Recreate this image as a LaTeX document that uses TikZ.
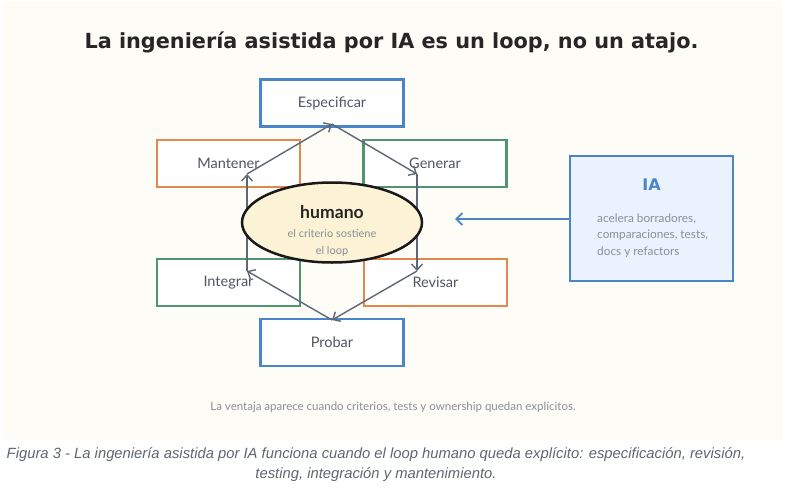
\documentclass[tikz,border=0pt]{standalone}
\usepackage{fontspec}
\setmainfont{Lato}
\newfontfamily\titlefont{DejaVu Sans}
\newfontfamily\capfont{Liberation Sans}
\usetikzlibrary{arrows.meta,shapes.geometric}
\definecolor{bgcream}{HTML}{FDFCF7}
\definecolor{cblue}{HTML}{4A84C9}
\definecolor{corange}{HTML}{E3874D}
\definecolor{cgreen}{HTML}{4F9570}
\definecolor{arrowgray}{HTML}{5E6875}
\definecolor{labelgray}{HTML}{505560}
\definecolor{softgray}{HTML}{8A8F96}
\definecolor{ellfill}{HTML}{FCF3D6}
\definecolor{iafill}{HTML}{EAF2FD}
\definecolor{capgray}{HTML}{5F6670}
\begin{document}
\begin{tikzpicture}[x=1pt,y=-1pt,
  stepbox/.style={draw, line width=2.2pt, fill=white, minimum width=143pt, minimum height=47pt, inner sep=0pt, font=\fontsize{14.5}{16}\selectfont, text=labelgray},
  loopline/.style={draw=arrowgray, line width=1.4pt, -{Straight Barb[length=6pt,width=11pt,line width=1.4pt]}},
  iaarrow/.style={draw=cblue, line width=1.6pt, -{Straight Barb[length=6pt,width=12pt,line width=1.8pt]}},
]
\useasboundingbox (0,0) rectangle (786,490);
\fill[white] (0,0) rectangle (786,490);
\fill[bgcream] (3,1) rectangle (783,440);

\node[font=\titlefont\bfseries\fontsize{20.8}{24}\selectfont, text=black!85] (title) at (391.5,42) {La ingeniería asistida por IA es un loop, no un atajo.};

% step boxes
\node[stepbox, draw=cblue] (espec) at (332,103) {Especificar};
\node[stepbox, draw=corange] (mant) at (228.5,163.5) {Mantener};
\node[stepbox, draw=cgreen] (gen) at (435,163.5) {Generar};
\node[stepbox, draw=cgreen] (integ) at (228.5,282.5) {Integrar};
\node[stepbox, draw=corange] (rev) at (435.5,282.5) {Revisar};
\node[stepbox, draw=cblue] (prob) at (332,342.5) {Probar};

% loop coordinates
\coordinate (ptop) at (332,124);
\coordinate (pright1) at (417,174);
\coordinate (pright2) at (417,271);
\coordinate (pbot) at (332,320);
\coordinate (pleft2) at (247,271);
\coordinate (pleft1) at (247,174);

\draw[loopline] (pleft1) -- (ptop);
\draw[loopline] (ptop) -- (pright1);
\draw[loopline] (pright1) -- (pright2);
\draw[loopline] (pright2) -- (pbot);
\draw[loopline] (pbot) -- (pleft2);
\draw[loopline] (pleft2) -- (pleft1);

% human ellipse
\node[ellipse, draw=black!90, line width=2.5pt, fill=ellfill, minimum width=180pt, minimum height=80pt, inner sep=0pt] (hum) at (332,222.5) {};
\node[font=\bfseries\fontsize{17.6}{19}\selectfont, text=black!85] (humt) at (332,212) {humano};
\node[font=\fontsize{11}{17.5}\selectfont, text=softgray, align=center] (humsub) at (332,243) {el criterio sostiene\\el loop};

% IA box
\node[draw=cblue, fill=iafill, line width=2.2pt, minimum width=163pt, minimum height=125pt, inner sep=0pt] (ia) at (651.5,218.5) {};
\node[font=\titlefont\bfseries\fontsize{16}{18}\selectfont, text=cblue] (iat) at (651.5,185) {IA};
\node[font=\fontsize{11.8}{16.5}\selectfont, text=softgray, align=left, anchor=west, inner sep=0pt] (iadesc) at (597,235.5) {acelera borradores,\\comparaciones, tests,\\docs y refactors};
\coordinate (iatip) at (455,219);
\draw[iaarrow] (ia.west |- iatip) -- (iatip);

% footer
\node[font=\fontsize{11.5}{13}\selectfont, text=softgray] (foot) at (393,407) {La ventaja aparece cuando criterios, tests y ownership quedan explícitos.};

% caption
\node[font=\capfont\itshape\fontsize{14.8}{17}\selectfont, text=capgray] (cap1) at (376,455) {Figura 3 - La ingeniería asistida por IA funciona cuando el loop humano queda explícito: especificación, revisión,};
\node[font=\capfont\itshape\fontsize{14.8}{17}\selectfont, text=capgray] (cap2) at (376,475) {testing, integración y mantenimiento.};
\end{tikzpicture}
\end{document}
